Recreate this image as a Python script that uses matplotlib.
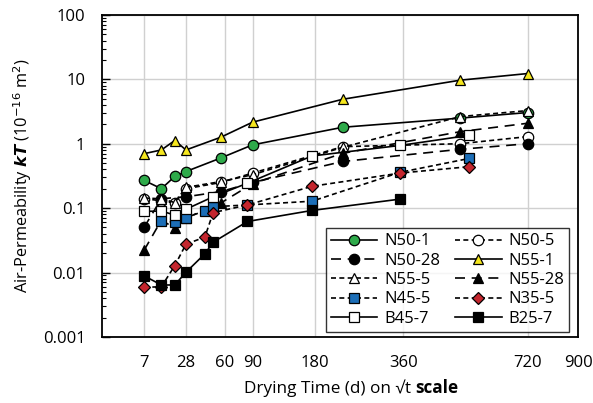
import numpy as np
import matplotlib
matplotlib.use("Agg")
import matplotlib.pyplot as plt
from matplotlib.ticker import FixedLocator, LogLocator, NullFormatter

plt.rcParams['font.family'] = ['Open Sans', 'DejaVu Sans']

# ---- data (drying time in days, kT in 1e-16 m2) ----
t_n50_1 = [7, 14, 21, 28, 56, 90, 230, 510, 720]
y_n50_1 = [0.27, 0.20, 0.31, 0.37, 0.60, 0.96, 1.8, 2.5, 3.05]

t_n50_5 = [7, 14, 21, 28, 56, 90, 230, 510, 720]
y_n50_5 = [0.14, 0.13, 0.12, 0.20, 0.25, 0.35, 0.90, 1.0, 1.29]

t_n50_28 = [7, 14, 28, 56, 90, 230, 510, 720]
y_n50_28 = [0.05, 0.14, 0.15, 0.18, 0.25, 0.53, 0.82, 1.0]

t_n55_1 = [7, 14, 21, 28, 56, 90, 230, 510, 720]
y_n55_1 = [0.70, 0.80, 1.12, 0.80, 1.26, 2.16, 4.9, 9.7, 12.3]

t_n55_5 = [7, 14, 21, 28, 56, 90, 230, 510, 720]
y_n55_5 = [0.143, 0.14, 0.122, 0.21, 0.258, 0.33, 0.88, 2.64, 3.27]

t_n55_28 = [7, 14, 21, 28, 56, 90, 230, 510, 720]
y_n55_28 = [0.022, 0.065, 0.049, 0.07, 0.12, 0.24, 0.71, 1.54, 2.08]

t_n45_5 = [14, 21, 28, 42, 49, 84, 175, 353, 535]
y_n45_5 = [0.064, 0.060, 0.071, 0.091, 0.105, 0.112, 0.128, 0.36, 0.59]

t_n35_5 = [7, 14, 21, 28, 42, 49, 84, 175, 353, 535]
y_n35_5 = [0.0059, 0.006, 0.0128, 0.0275, 0.0355, 0.085, 0.112, 0.218, 0.35, 0.44]

t_b45_7 = [7, 14, 21, 28, 49, 84, 175, 353, 535]
y_b45_7 = [0.089, 0.090, 0.078, 0.096, 0.15, 0.244, 0.645, 0.94, 1.35]

t_b25_7 = [7, 14, 21, 28, 42, 49, 84, 175, 353]
y_b25_7 = [0.0089, 0.0064, 0.0064, 0.0101, 0.0195, 0.0295, 0.062, 0.092, 0.138]

x_ticks = [7, 28, 60, 90, 180, 360, 720, 900]
y_ticks = [0.001, 0.01, 0.1, 1, 10, 100]
y_tick_labels = ["0.001", "0.01", "0.1", "1", "10", "100"]

SHORT = (0, (3, 2))
LONG = (0, (6, 4))

series = [
    ("N50-1", t_n50_1, y_n50_1, 'o', '#2EAA4A', '-'),
    ("N50-5", t_n50_5, y_n50_5, 'o', 'white', SHORT),
    ("N50-28", t_n50_28, y_n50_28, 'o', 'black', LONG),
    ("N55-1", t_n55_1, y_n55_1, '^', '#F5E61E', '-'),
    ("N55-5", t_n55_5, y_n55_5, '^', 'white', SHORT),
    ("N55-28", t_n55_28, y_n55_28, '^', 'black', LONG),
    ("N45-5", t_n45_5, y_n45_5, 's', '#1C6EB7', SHORT),
    ("N35-5", t_n35_5, y_n35_5, 'D', '#C4262E', SHORT),
    ("B45-7", t_b45_7, y_b45_7, 's', 'white', '-'),
    ("B25-7", t_b25_7, y_b25_7, 's', 'black', '-'),
]

FS = 12

fig = plt.figure(figsize=(5.93, 4.03), dpi=100)
ax = fig.add_axes([0.172, 0.164, 0.803, 0.799])

ax.set_xscale('function', functions=(lambda v: np.sqrt(np.clip(v, 0, None)), np.square))
ax.set_yscale('log')
ax.set_xlim(0, 900)
ax.set_ylim(0.001, 100)

handles = {}
for name, t, y, m, c, ls in series:
    ms = 6.5 if m == 'D' else 7.5
    h, = ax.plot(t, y, linestyle=ls, color='black', linewidth=1.2,
                 marker=m, markersize=ms, markerfacecolor=c,
                 markeredgecolor='black', markeredgewidth=0.9, label=name,
                 zorder=3)
    handles[name] = h

ax.xaxis.set_major_locator(FixedLocator(x_ticks))
ax.set_xticklabels([str(v) for v in x_ticks])
ax.yaxis.set_major_locator(FixedLocator(y_ticks))
ax.set_yticklabels(y_tick_labels)
ax.yaxis.set_minor_locator(LogLocator(base=10, subs=np.arange(2, 10), numticks=20))
ax.yaxis.set_minor_formatter(NullFormatter())

ax.grid(True, which='major', color='#D0D0D0', linewidth=1.0, zorder=0)
ax.set_axisbelow(True)
ax.tick_params(axis='x', length=0, pad=13, labelsize=FS)
ax.tick_params(axis='y', which='major', direction='in', length=6, width=1, labelsize=FS, pad=12)
ax.tick_params(axis='y', which='minor', direction='in', length=3, width=0.8)
for s in ax.spines.values():
    s.set_linewidth(1.3)
    s.set_color('black')

fig.text(0.70, 0.037, "Drying Time (d) on \u221at ", fontsize=12.3, ha='right', va='center')
fig.text(0.70, 0.037, "scale", fontsize=12.3, fontweight='bold', ha='left', va='center')

ax.set_ylabel(r"Air-Permeability $\boldsymbol{kT}$ (10$^{-16}$ m$^{2}$)", fontsize=11.8, labelpad=6)

order = ["N50-1", "N50-28", "N55-5", "N45-5", "B45-7",
         "N50-5", "N55-1", "N55-28", "N35-5", "B25-7"]
leg = ax.legend([handles[n] for n in order], order, ncol=2,
                loc='lower right', bbox_to_anchor=(0.981, 0.016),
                fontsize=FS, frameon=True, fancybox=False, handlelength=2.8,
                columnspacing=0.9, handletextpad=0.4, labelspacing=0.2,
                borderpad=0.3, borderaxespad=0)
leg.get_frame().set_edgecolor('black')
leg.get_frame().set_linewidth(1.0)
leg.set_zorder(5)

fig.savefig("out.png", dpi=100)
